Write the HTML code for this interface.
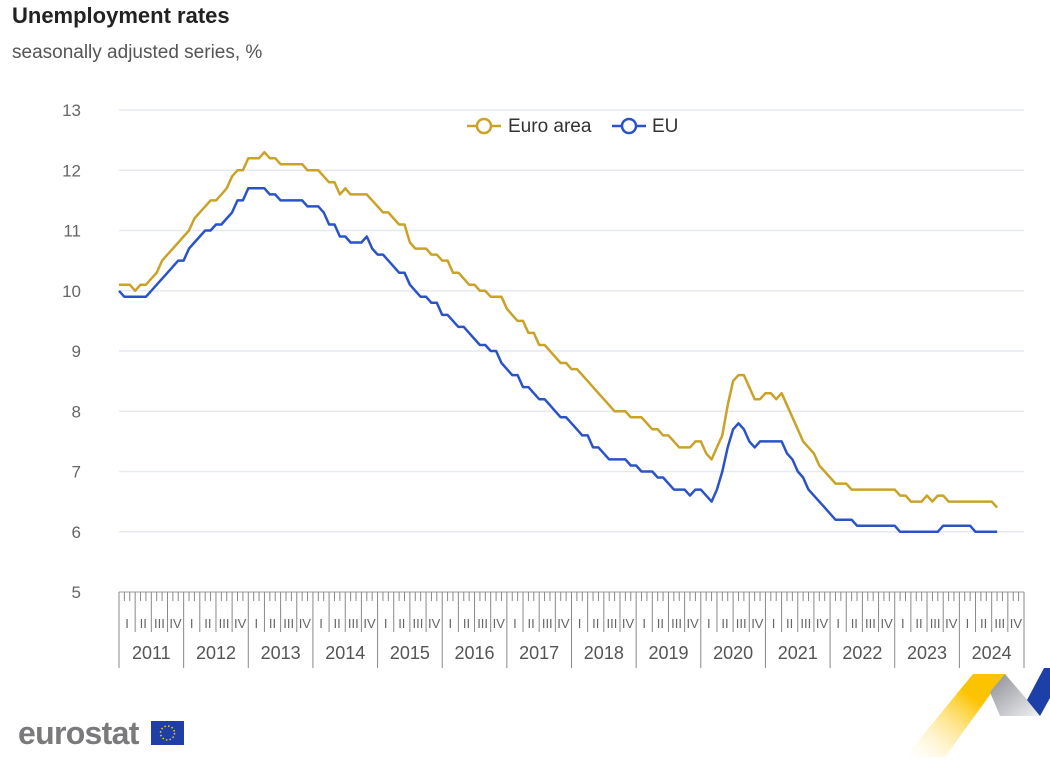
<!DOCTYPE html>
<html><head><meta charset="utf-8"><style>
body{margin:0;width:1050px;height:757px;background:#fff;overflow:hidden;font-family:"Liberation Sans",sans-serif;}
</style></head><body>
<svg width="1050" height="757" xmlns="http://www.w3.org/2000/svg">
<defs>
<linearGradient id="yg" x1="1" y1="0" x2="0" y2="1"><stop offset="0.3" stop-color="#fcc400"/><stop offset="1" stop-color="#fff" stop-opacity="0.2"/></linearGradient>
<linearGradient id="gg" x1="0" y1="0" x2="1" y2="1"><stop offset="0" stop-color="#8a8d93"/><stop offset="1" stop-color="#f2f2f4"/></linearGradient>
</defs>
<text x="12" y="23" font-size="22" font-weight="bold" fill="#222">Unemployment rates</text>
<text x="12" y="58" font-size="19" fill="#555">seasonally adjusted series, %</text>
<g id="grid"></g><g id="yaxis"></g><g id="xaxis"></g><g id="series"></g>
<g>
<g>
<line x1="467" y1="126" x2="501" y2="126" stroke="#c9a227" stroke-width="2.5"/><circle cx="484" cy="126" r="7" fill="#fff" stroke="#c9a227" stroke-width="2.5"/>
<text x="508" y="132" font-size="19" fill="#333">Euro area</text></g>
<g>
<line x1="612" y1="126" x2="646" y2="126" stroke="#2a53c9" stroke-width="2.5"/><circle cx="629" cy="126" r="7" fill="#fff" stroke="#2a53c9" stroke-width="2.5"/>
<text x="652" y="132" font-size="19" fill="#333">EU</text></g>
</g>
<g>
<text x="18" y="744" font-size="32" font-weight="bold" fill="#7a7a7c" letter-spacing="-0.7">eurostat</text>
<rect x="151" y="721" width="33" height="24" fill="#1f3fa6"/>
<circle cx="167.5" cy="733" r="7" fill="none" stroke="#f5d000" stroke-width="1.5" stroke-dasharray="1.5 2.2"/>
</g>
<g>
<polygon points="973,674 1005,674 945,757 905,757" fill="url(#yg)"/>
<polygon points="1005,674 1041,716 1000,716 990,692" fill="url(#gg)"/>
<polygon points="1044,668 1050,668 1050,698 1040,716 1027,700" fill="#1d3fa8"/>
</g>
</svg>
<script>
const years=["2011","2012","2013","2014","2015","2016","2017","2018","2019","2020","2021","2022","2023","2024"];
const quarters=["I","II","III","IV"];
const yTicks=[5,6,7,8,9,10,11,12,13];
const euroArea=[10.1,10.1,10.1,10.0,10.1,10.1,10.2,10.3,10.5,10.6,10.7,10.8,
10.9,11.0,11.2,11.3,11.4,11.5,11.5,11.6,11.7,11.9,12.0,12.0,
12.2,12.2,12.2,12.3,12.2,12.2,12.1,12.1,12.1,12.1,12.1,12.0,
12.0,12.0,11.9,11.8,11.8,11.6,11.7,11.6,11.6,11.6,11.6,11.5,
11.4,11.3,11.3,11.2,11.1,11.1,10.8,10.7,10.7,10.7,10.6,10.6,
10.5,10.5,10.3,10.3,10.2,10.1,10.1,10.0,10.0,9.9,9.9,9.9,
9.7,9.6,9.5,9.5,9.3,9.3,9.1,9.1,9.0,8.9,8.8,8.8,
8.7,8.7,8.6,8.5,8.4,8.3,8.2,8.1,8.0,8.0,8.0,7.9,
7.9,7.9,7.8,7.7,7.7,7.6,7.6,7.5,7.4,7.4,7.4,7.5,
7.5,7.3,7.2,7.4,7.6,8.1,8.5,8.6,8.6,8.4,8.2,8.2,
8.3,8.3,8.2,8.3,8.1,7.9,7.7,7.5,7.4,7.3,7.1,7.0,
6.9,6.8,6.8,6.8,6.7,6.7,6.7,6.7,6.7,6.7,6.7,6.7,
6.7,6.6,6.6,6.5,6.5,6.5,6.6,6.5,6.6,6.6,6.5,6.5,
6.5,6.5,6.5,6.5,6.5,6.5,6.5,6.4];
const eu=[10.0,9.9,9.9,9.9,9.9,9.9,10.0,10.1,10.2,10.3,10.4,10.5,
10.5,10.7,10.8,10.9,11.0,11.0,11.1,11.1,11.2,11.3,11.5,11.5,
11.7,11.7,11.7,11.7,11.6,11.6,11.5,11.5,11.5,11.5,11.5,11.4,
11.4,11.4,11.3,11.1,11.1,10.9,10.9,10.8,10.8,10.8,10.9,10.7,
10.6,10.6,10.5,10.4,10.3,10.3,10.1,10.0,9.9,9.9,9.8,9.8,
9.6,9.6,9.5,9.4,9.4,9.3,9.2,9.1,9.1,9.0,9.0,8.8,
8.7,8.6,8.6,8.4,8.4,8.3,8.2,8.2,8.1,8.0,7.9,7.9,
7.8,7.7,7.6,7.6,7.4,7.4,7.3,7.2,7.2,7.2,7.2,7.1,
7.1,7.0,7.0,7.0,6.9,6.9,6.8,6.7,6.7,6.7,6.6,6.7,
6.7,6.6,6.5,6.7,7.0,7.4,7.7,7.8,7.7,7.5,7.4,7.5,
7.5,7.5,7.5,7.5,7.3,7.2,7.0,6.9,6.7,6.6,6.5,6.4,
6.3,6.2,6.2,6.2,6.2,6.1,6.1,6.1,6.1,6.1,6.1,6.1,
6.1,6.0,6.0,6.0,6.0,6.0,6.0,6.0,6.0,6.1,6.1,6.1,
6.1,6.1,6.1,6.0,6.0,6.0,6.0,6.0];
const NS="http://www.w3.org/2000/svg";
const X0=119,X1=1024,Y0=592,Y1=110,YMIN=5,YMAX=13;
const nMonths=years.length*12;
const mw=(X1-X0)/nMonths;
const xm=i=>X0+i*mw;
const y=v=>Y0-(v-YMIN)/(YMAX-YMIN)*(Y0-Y1);
function mk(tag,attrs,parent){const e=document.createElementNS(NS,tag);for(const k in attrs)e.setAttribute(k,attrs[k]);parent.appendChild(e);return e;}
const grid=document.getElementById('grid'),ya=document.getElementById('yaxis'),xa=document.getElementById('xaxis'),sr=document.getElementById('series');
yTicks.forEach(t=>{
 if(t>YMIN){const l=mk('line',{x1:X0,x2:X1,y1:y(t),y2:y(t),stroke:'#e6e9f2','stroke-width':1.5},grid);
 
 }
 const tx=mk('text',{x:81,y:y(t)+6,'font-size':17,fill:'#666','text-anchor':'end'},ya);tx.textContent=t;
 
 
});
const base=mk('line',{x1:X0,x2:X1,y1:Y0,y2:Y0,stroke:'#999','stroke-width':1},xa);


for(let i=0;i<=nMonths;i++){
 let len=9;if(i%3===0)len=40;if(i%12===0)len=76;
 mk('line',{x1:xm(i),x2:xm(i),y1:Y0,y2:Y0+len,stroke:'#888','stroke-width':1},xa);
}
years.forEach((yr,yi)=>{
 quarters.forEach((q,qi)=>{const t=mk('text',{x:xm(yi*12+qi*3+1.5),y:628,'font-size':13,fill:'#666','text-anchor':'middle'},xa);t.textContent=q;
 
 });
 const t=mk('text',{x:xm(yi*12+6),y:659,'font-size':18,fill:'#555','text-anchor':'middle'},xa);t.textContent=yr;
 
 
});
function line(data,color,name){
 const p=mk('path',{d:data.map((v,i)=>(i?'L':'M')+xm(i).toFixed(1)+','+y(v).toFixed(1)).join(''),fill:'none',stroke:color,'stroke-width':2.5,'stroke-linejoin':'round'},sr);
 
 
}
line(euroArea,'#c9a227','euro-area-line');
line(eu,'#2a53c9','eu-line');
</script>
</body></html>
